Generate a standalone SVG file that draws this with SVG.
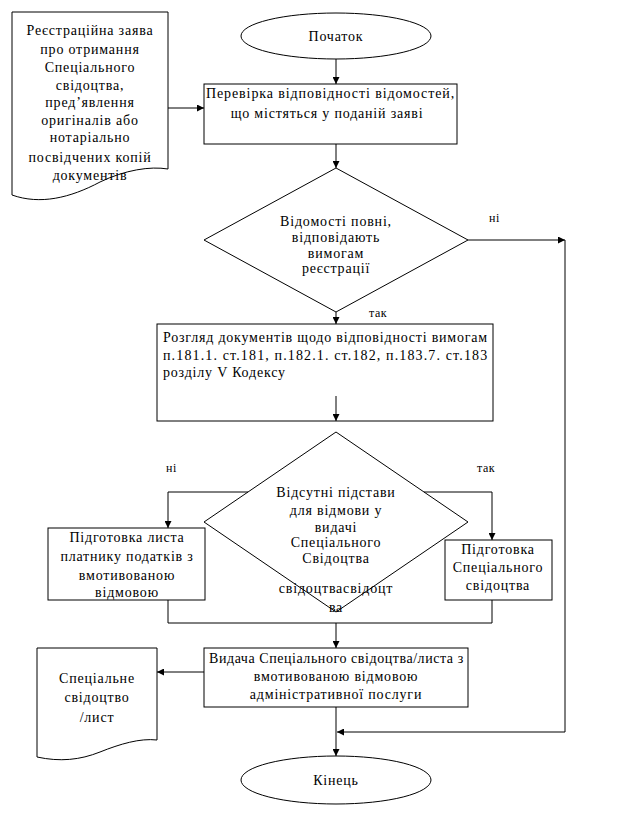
<svg xmlns="http://www.w3.org/2000/svg" width="625" height="829" viewBox="0 0 625 829">
<style>
.s{fill:none;stroke:#000;stroke-width:1}
.w{fill:#fff;stroke:#000;stroke-width:1}
.t{font-family:"Liberation Serif","Times New Roman",serif;font-size:14px;fill:#000;letter-spacing:0.8px}
.c{text-anchor:middle}
.sm{font-size:12px;letter-spacing:0.5px}
</style>
<defs>
<marker id="a" viewBox="0 0 10 10" refX="10" refY="5" markerWidth="7" markerHeight="7" orient="auto" markerUnits="userSpaceOnUse">
<path d="M0,0 L10,5 L0,10 Z" fill="#000"/>
</marker>
</defs>
<rect width="625" height="829" fill="#fff"/>

<g id="doc1">
<path class="w" d="M12,12 H168 V169 C150,166 125,170 100,182 C70,198 40,205 12,195 Z"/>
<text class="t c" x="90" y="35">Реєстраційна заява</text>
<text class="t c" x="90" y="54">про отримання</text>
<text class="t c" x="90" y="72">Спеціального</text>
<text class="t c" x="90" y="90">свідоцтва,</text>
<text class="t c" x="90" y="107">пред’явлення</text>
<text class="t c" x="90" y="125">оригіналів або</text>
<text class="t c" x="90" y="142">нотаріально</text>
<text class="t c" x="90" y="162">посвідчених копій</text>
<text class="t c" x="90" y="180">документів</text>
</g>

<g id="start">
<ellipse class="w" cx="336" cy="36" rx="95" ry="23"/>
<text class="t c" x="336" y="41">Початок</text>
</g>

<g id="box1">
<rect class="w" x="204" y="84" width="253" height="60"/>
<text class="t" x="206" y="98" textLength="249" lengthAdjust="spacing">Перевірка відповідності відомостей,</text>
<text class="t c" x="327" y="118">що містяться у поданій заяві</text>
</g>

<g id="dec1">
<path class="w" d="M336,168 L468,240 L336,312 L204,240 Z"/>
<text class="t c" x="336" y="226">Відомості  повні,</text>
<text class="t c" x="336" y="242">відповідають</text>
<text class="t c" x="336" y="258">вимогам</text>
<text class="t c" x="336" y="273">реєстрації</text>
</g>

<g id="box2">
<rect class="w" x="157" y="324" width="336" height="97"/>
<text class="t" x="163" y="342" textLength="325" lengthAdjust="spacing">Розгляд документів щодо відповідності вимогам</text>
<text class="t" x="163" y="360" textLength="325" lengthAdjust="spacing">п.181.1. ст.181, п.182.1. ст.182, п.183.7. ст.183</text>
<text class="t" x="163" y="377">розділу V Кодексу</text>
</g>

<g id="dec2">
<path class="s" d="M336,432 L468,522 L336,612 L204,522 Z"/>
<text class="t c" x="336" y="497">Відсутні підстави</text>
<text class="t c" x="336" y="515">для відмови у</text>
<text class="t c" x="336" y="532">видачі</text>
<text class="t c" x="336" y="547">Спеціального</text>
<text class="t c" x="336" y="563">Свідоцтва</text>
<text class="t c" x="336" y="593">свідоцтвасвідоцт</text>
<text class="t c" x="336" y="612">ва</text>
</g>

<g id="boxL">
<rect class="w" x="48" y="528" width="157" height="72"/>
<text class="t c" x="127" y="542">Підготовка листа</text>
<text class="t c" x="127" y="561">платнику податків з</text>
<text class="t c" x="127" y="580">вмотивованою</text>
<text class="t c" x="127" y="597">відмовою</text>
</g>

<g id="boxR">
<rect class="w" x="445" y="540" width="107" height="60"/>
<text class="t c" x="498" y="554">Підготовка</text>
<text class="t c" x="498" y="572">Спеціального</text>
<text class="t c" x="498" y="590">свідоцтва</text>
</g>

<g id="box3">
<rect class="w" x="204" y="648" width="264" height="59"/>
<text class="t" x="209" y="663" textLength="255" lengthAdjust="spacing">Видача Спеціального свідоцтва/листа з</text>
<text class="t c" x="336" y="681">вмотивованою відмовою</text>
<text class="t c" x="336" y="699">адміністративної послуги</text>
</g>

<g id="doc2">
<path class="w" d="M37,648 H157 V740 C140,738 120,744 100,752 C80,760 60,762 37,757 Z"/>
<text class="t c" x="97" y="683">Спеціальне</text>
<text class="t c" x="97" y="702">свідоцтво</text>
<text class="t c" x="97" y="722">/лист</text>
</g>

<g id="end">
<ellipse class="w" cx="336" cy="780" rx="95" ry="24"/>
<text class="t c" x="336" y="785">Кінець</text>
</g>

<g id="connectors">
<path class="s" d="M336,59 V84" marker-end="url(#a)"/>
<path class="s" d="M168,108 H204" marker-end="url(#a)"/>
<path class="s" d="M336,144 V168" marker-end="url(#a)"/>
<path class="s" d="M468,240 H565" marker-end="url(#a)"/>
<path class="s" d="M565,240 V732 H337" marker-end="url(#a)"/>
<path class="s" d="M336,312 V324" marker-end="url(#a)"/>
<path class="s" d="M336,396 V421" marker-end="url(#a)"/>
<path class="s" d="M248,492 H168 V528" marker-end="url(#a)"/>
<path class="s" d="M424,492 H492 V540" marker-end="url(#a)"/>
<path class="s" d="M168,600 V623 H492 V600"/>
<path class="s" d="M336,623 V648" marker-end="url(#a)"/>
<path class="s" d="M204,672 H157" marker-end="url(#a)"/>
<path class="s" d="M336,707 V756" marker-end="url(#a)"/>
<text class="t sm" x="489" y="222">ні</text>
<text class="t sm" x="369" y="317">так</text>
<text class="t sm" x="166" y="472">ні</text>
<text class="t sm" x="477" y="472">так</text>
</g>
</svg>
